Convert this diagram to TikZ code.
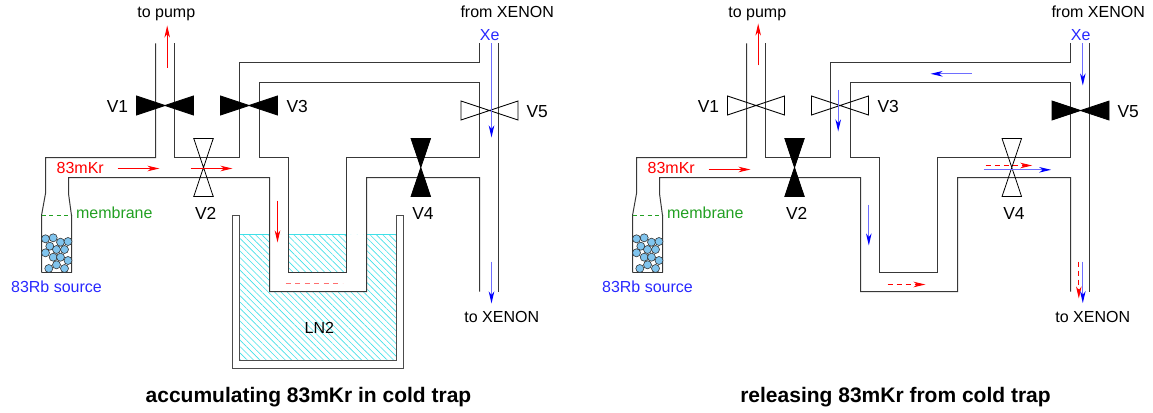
\documentclass[tikz,border=0pt]{standalone}
\usepackage{fontspec}
\setmainfont{Liberation Sans}
\usetikzlibrary{arrows.meta,patterns.meta}
\definecolor{pipe}{HTML}{383838}
\definecolor{ball}{HTML}{80C4EE}
\definecolor{mgreen}{HTML}{22A022}
\definecolor{tblue}{HTML}{2828FF}
\definecolor{lblue}{HTML}{6E6EFF}
\definecolor{lred}{HTML}{FF7070}
\definecolor{lncol}{HTML}{40E0E8}
\tikzset{
  pipeline/.style={draw=pipe, line width=1pt, line join=miter},
  dewarline/.style={draw=black!70, line width=1pt, line join=miter},
  valveh/.pic={\path[pic actions] (-28.5,-9.5) -- (28.5,9.5) -- (28.5,-9.5) -- (-28.5,9.5) -- cycle;},
  valvev/.pic={\path[pic actions] (-9.75,-29) -- (9.75,29) -- (-9.75,29) -- (9.75,-29) -- cycle;},
  closedvalve/.style={draw=black, fill=black, line width=0.8pt, line join=miter},
  openvalve/.style={draw=black, line width=0.8pt, line join=miter},
  ballstyle/.style={draw=black!80, fill=ball, line width=0.6pt},
  membr/.style={draw=mgreen, line width=1pt, dash pattern=on 4pt off 3.5pt},
  redarrow/.style={draw=red, line width=1pt, -{Stealth[length=12pt,width=5.5pt,inset=3.5pt]}},
  reddash/.style={draw=red, line width=1pt, dash pattern=on 5pt off 4pt, -{Stealth[length=12pt,width=5.5pt,inset=3.5pt]}},
  bluearrow/.style={draw=lblue, line width=1.3pt, -{Stealth[length=12pt,width=5.5pt,inset=3.5pt,color=blue]}},
  lbl/.style={font=\fontsize{16}{18}\selectfont, anchor=base, inner sep=0pt},
  vlbl/.style={font=\fontsize{17.4}{20}\selectfont, anchor=base, inner sep=0pt},
  ttl/.style={font=\fontsize{21}{24}\selectfont\bfseries, anchor=base, inner sep=0pt},
}
\newcommand\drawpipes{%
  \draw[pipeline] (41,272) -- (41,215) -- (45,193) -- (45,157) -- (155,157) -- (155,43);
  \draw[pipeline] (174,43) -- (174,157) -- (239,157) -- (239,62) -- (479,62) -- (479,43);
  \draw[pipeline] (259,82) -- (479,82) -- (479,157) -- (346,157) -- (346,272) -- (288,272) -- (288,157) -- (259,157) -- cycle;
  \draw[pipeline] (71,272) -- (71,215) -- (68,193) -- (68,177) -- (269,177) -- (269,291) -- (366,291) -- (366,177) -- (479,177) -- (479,291);
  \draw[pipeline] (498,43) -- (498,291);
  \draw[pipeline] (41,272) -- (71,272);
  \foreach \bx/\by in {45/238.3,52.7/237.3,60/241.7,67.5/241,49.3/245.7,56/249,64/249,45/252.3,52.7/256.7,60/256.7,67.5/260,48.3/268,56/264.3,64/268}
    \draw[ballstyle] (\bx,\by) circle[radius=4];
  \draw[membr] (41,215) -- (71,215);
}
\begin{document}
\begin{tikzpicture}[x=1pt,y=-1pt]
\useasboundingbox (0,0) rectangle (1153,412);
\begin{scope}[shift={(0.5,0.5)}]
% ================= LEFT PANEL =================
\begin{scope}
  % liquid nitrogen
  \fill[pattern={Lines[angle=-45,distance=4.5pt,line width=0.6pt]}, pattern color=lncol, even odd rule]
    (239,234) rectangle (396,360) (269,234) rectangle (366,291) (288,234) rectangle (346,272);
  \draw[lncol, line width=1pt] (239,234) -- (269,234) (288,234) -- (346,234) (366,234) -- (396,234);
  % dewar
  \draw[dewarline] (239,215) -- (239,360) -- (396,360) -- (396,215) -- (403,215) -- (403,368) -- (232,368) -- (232,215) -- cycle;
  \drawpipes
  % valves
  \pic[closedvalve] at (164.5,105) {valveh};
  \pic[closedvalve] at (248.5,105) {valveh};
  \pic[openvalve] at (489,110) {valveh};
  \pic[openvalve] at (203,167) {valvev};
  \pic[closedvalve] at (420.3,167) {valvev};
  % arrow end points
  \coordinate (LpumpS) at (166.7,67);   \coordinate (LpumpE) at (166.7,25);
  \coordinate (LkrAS) at (117,168);     \coordinate (LkrAE) at (159,168);
  \coordinate (LkrBS) at (190,168);     \coordinate (LkrBE) at (232,168);
  \coordinate (LtrapS) at (277,200);    \coordinate (LtrapE) at (277,242);
  \coordinate (LdashS) at (285,283);    \coordinate (LdashE) at (342,283);
  \coordinate (LxeS) at (491,43);       \coordinate (LxeE) at (491,137);
  \coordinate (LoutS) at (491,261);     \coordinate (LoutE) at (491,303);
  \draw[redarrow] (LpumpS) -- (LpumpE);
  \draw[redarrow] (LkrAS) -- (LkrAE);
  \draw[redarrow] (LkrBS) -- (LkrBE);
  \draw[redarrow] (LtrapS) -- (LtrapE);
  \draw[draw=lred, line width=1pt, dash pattern=on 5pt off 4.5pt] (LdashS) -- (LdashE);
  \draw[bluearrow] (LxeS) -- (LxeE);
  \draw[bluearrow] (LoutS) -- (LoutE);
  % labels
  \node[lbl] (Lpump) at (165.8,17) {to pump};
  \node[lbl] (Lfrom) at (506.7,17) {from XENON};
  \node[lbl, text=tblue] (Lxe) at (489.2,40) {Xe};
  \node[vlbl] (LV1) at (117,111.5) {V1};
  \node[vlbl] (LV3) at (296.7,111.5) {V3};
  \node[vlbl] (LV5) at (536.7,116.7) {V5};
  \node[vlbl] (LV2) at (205.2,218.5) {V2};
  \node[vlbl] (LV4) at (422.5,219) {V4};
  \node[lbl, text=red] (Lkr) at (79.7,173.3) {83mKr};
  \node[lbl, text=mgreen] (Lmem) at (113.8,218.3) {membrane};
  \node[lbl, text=tblue] (Lrb) at (56,291.7) {83Rb source};
  \node[lbl] (Lln) at (318.8,333.3) {LN2};
  \node[lbl] (Lto) at (501.3,321.7) {to XENON};
  \node[ttl] (Ltitle) at (308,402.3) {accumulating 83mKr in cold trap};
\end{scope}
% ================= RIGHT PANEL =================
\begin{scope}[xshift=591pt]
  \drawpipes
  \pic[openvalve] at (164.5,105) {valveh};
  \pic[openvalve] at (248.5,105) {valveh};
  \pic[closedvalve] at (489,110) {valveh};
  \pic[closedvalve] at (203,167) {valvev};
  \pic[openvalve] at (420.3,167) {valvev};
  \coordinate (RpumpS) at (166.7,65);   \coordinate (RpumpE) at (166.7,23);
  \coordinate (RkrS) at (117,169);      \coordinate (RkrE) at (159,169);
  \coordinate (RvS) at (246.7,89);      \coordinate (RvE) at (246.7,131);
  \coordinate (RtopS) at (380,73.3);    \coordinate (RtopE) at (339,73.3);
  \coordinate (RxeS) at (491.3,43);     \coordinate (RxeE) at (491.3,85);
  \coordinate (RtrapS) at (277.3,204);  \coordinate (RtrapE) at (277.3,245);
  \coordinate (RbotS) at (296,284);     \coordinate (RbotE) at (334,284);
  \coordinate (RvfS) at (394,165);      \coordinate (RvfE) at (440.7,165);
  \coordinate (RvbS) at (392,169.3);    \coordinate (RvbE) at (459.7,169.3);
  \coordinate (RoutrS) at (487.3,261);  \coordinate (RoutrE) at (487.3,298);
  \coordinate (RoutbS) at (491.3,261);  \coordinate (RoutbE) at (491.3,302.7);
  \draw[redarrow] (RpumpS) -- (RpumpE);
  \draw[redarrow] (RkrS) -- (RkrE);
  \draw[bluearrow] (RvS) -- (RvE);
  \draw[bluearrow] (RtopS) -- (RtopE);
  \draw[bluearrow] (RxeS) -- (RxeE);
  \draw[bluearrow] (RtrapS) -- (RtrapE);
  \draw[reddash] (RbotS) -- (RbotE);
  \draw[bluearrow] (RvbS) -- (RvbE);
  \draw[reddash] (RvfS) -- (RvfE);
  \draw[reddash] (RoutrS) -- (RoutrE);
  \draw[bluearrow] (RoutbS) -- (RoutbE);
  \node[lbl] (Rpump) at (165.8,17) {to pump};
  \node[lbl] (Rfrom) at (506.7,17) {from XENON};
  \node[lbl, text=tblue] (Rxe) at (489.2,40) {Xe};
  \node[vlbl] (RV1) at (117,111.5) {V1};
  \node[vlbl] (RV3) at (296.7,111.5) {V3};
  \node[vlbl] (RV5) at (536.7,116.7) {V5};
  \node[vlbl] (RV2) at (205.2,218.5) {V2};
  \node[vlbl] (RV4) at (422.5,219) {V4};
  \node[lbl, text=red] (Rkr) at (79.7,173.3) {83mKr};
  \node[lbl, text=mgreen] (Rmem) at (113.8,218.3) {membrane};
  \node[lbl, text=tblue] (Rrb) at (56,291.7) {83Rb source};
  \node[lbl] (Rto) at (501.3,321.7) {to XENON};
  \node[ttl] (Rtitle) at (304,402.3) {releasing 83mKr from cold trap};
\end{scope}
\end{scope}
\end{tikzpicture}
\end{document}
